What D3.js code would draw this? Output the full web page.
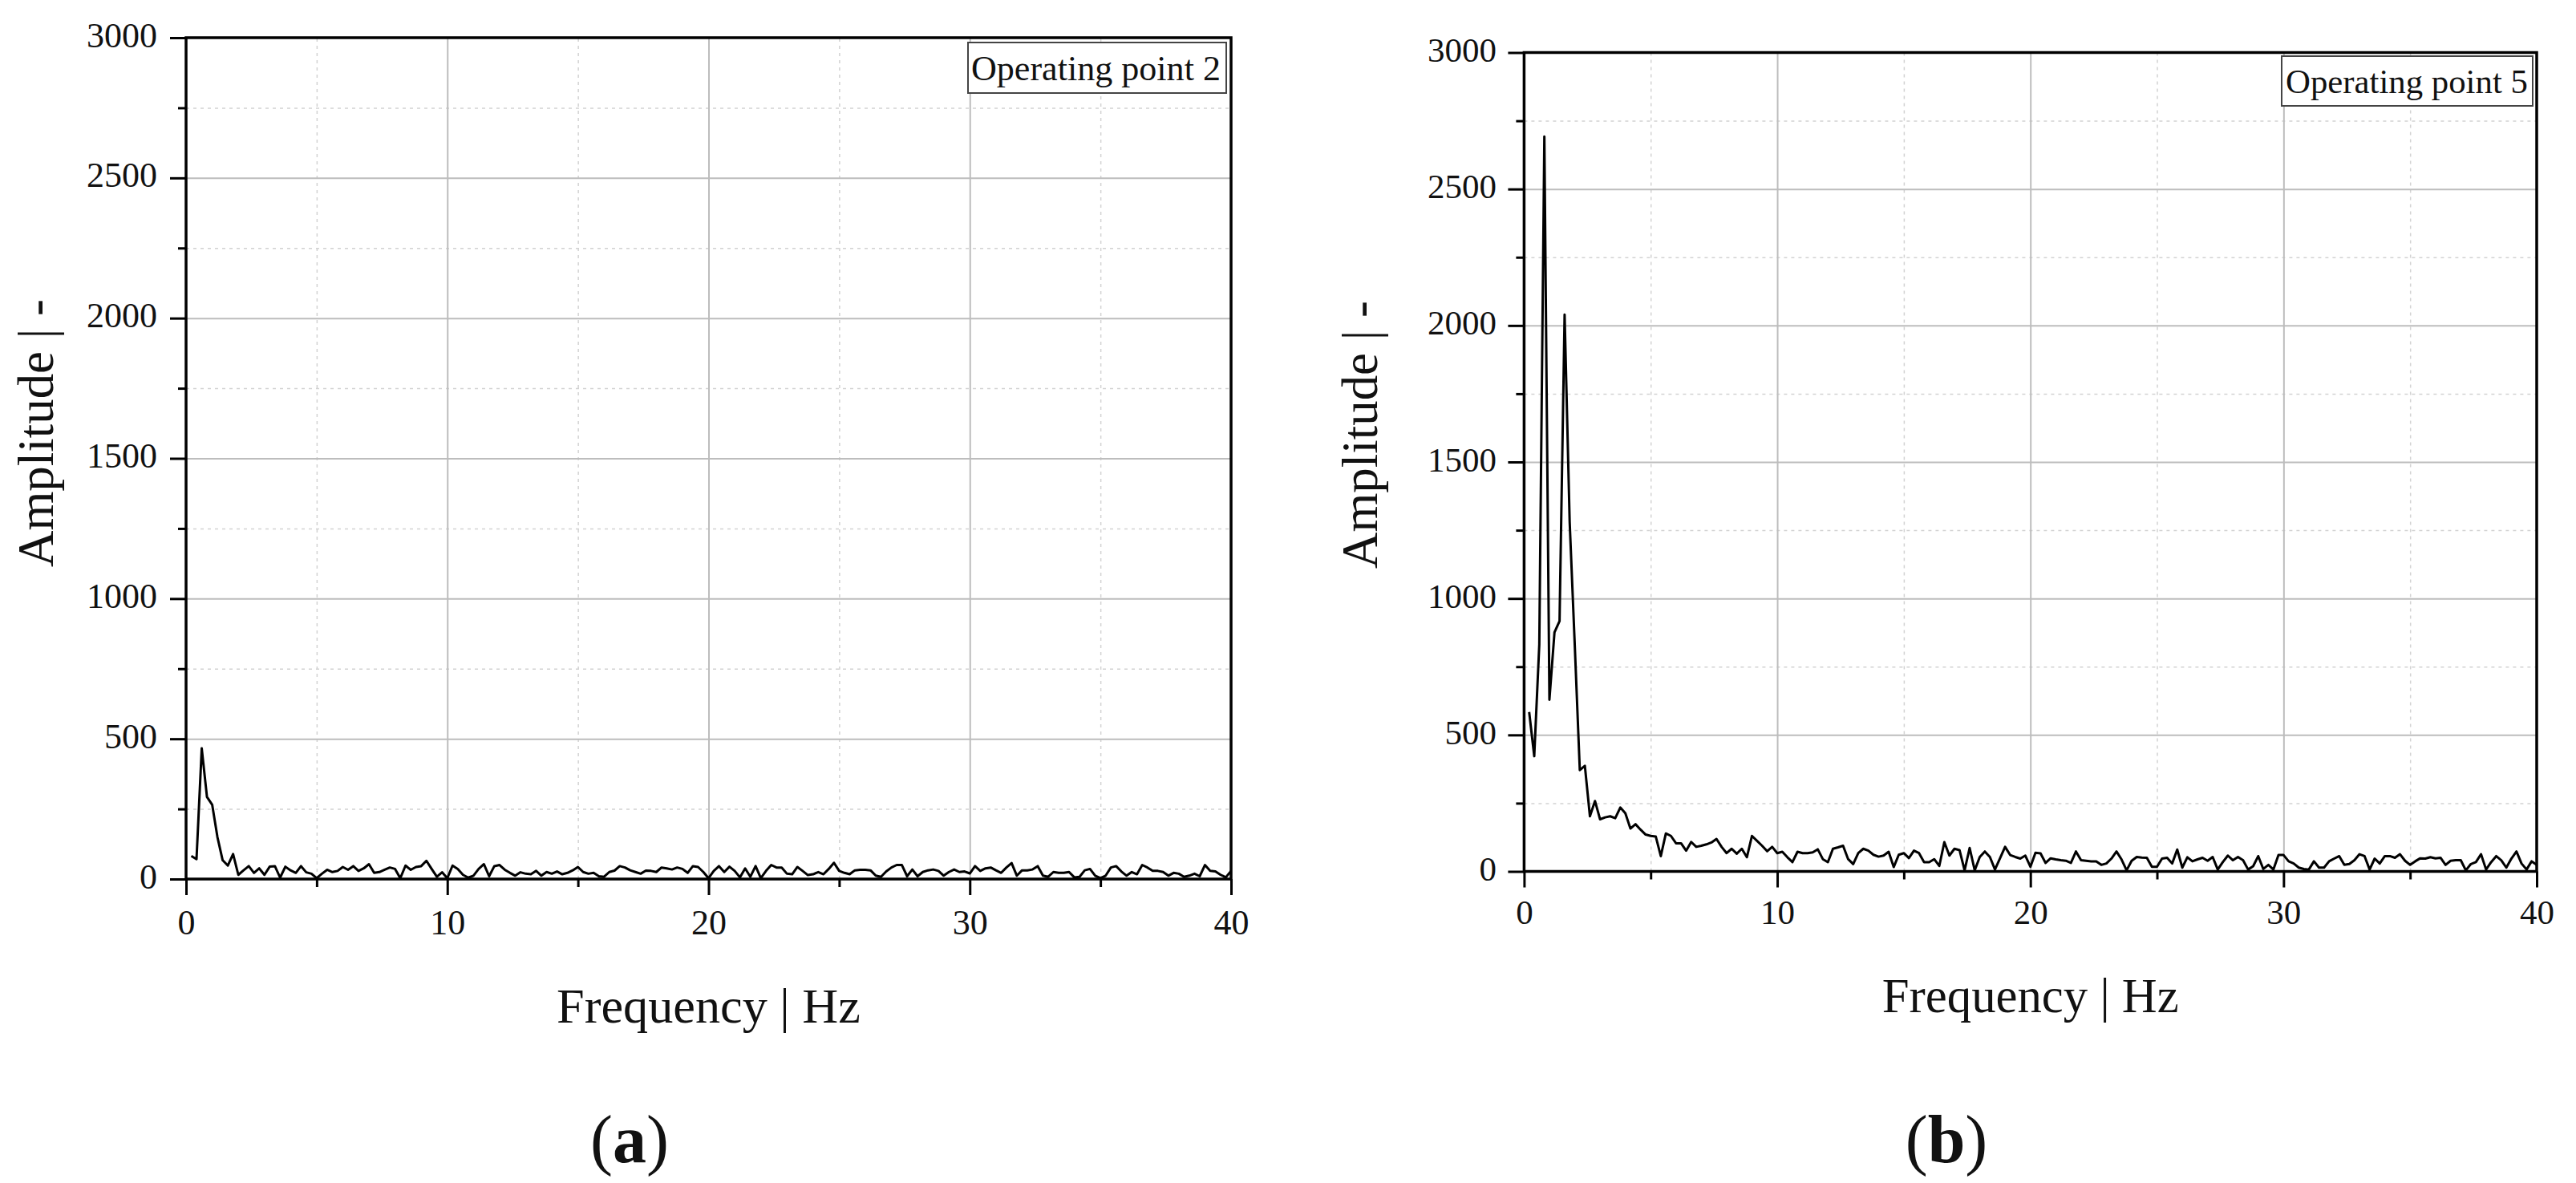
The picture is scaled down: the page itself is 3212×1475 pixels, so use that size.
<!DOCTYPE html>
<html>
<head>
<meta charset="utf-8">
<script src="https://cdn.jsdelivr.net/npm/d3@7"></script>
<style>
  body { margin: 0; background: #fff; }
  svg { display: block; }
  text { font-family: "Liberation Serif", "Times New Roman", serif; fill: #111; }
</style>
</head>
<body>
<svg id="chart" width="3212" height="1475"></svg>
<script>
// ---------------- data ----------------
const freqStep = 0.2; // FFT bin width (Hz); first bin at 0.2 Hz
const ampOP2 = [
  82,71,466,293,265,150,67,48,89,15,31,46,22,38,15,44,46,5,44,31,22,46,24,19,3,
  19,33,25,29,43,33,46,29,38,53,22,25,33,41,36,3,48,33,43,46,65,36,8,24,3,48,36,15,5,12,36,53,10,46,50,33,22,12,24,19,17,29,12,25,19,27,
  17,22,31,43,25,19,22,10,8,25,30,46,41,31,25,19,30,29,25,41,38,34,41,36,22,46,43,25,3,29,46,25,44,29,6,38,8,46,3,29,50,41,41,19,17,43,29,14,17,25,17,36,58,29,22,17,31,33,33,31,12,8,27,41,50,50,10,34,10,25,31,34,29,12,
  25,34,25,27,20,
  46,29,38,41,31,22,41,57,12,31,31,34,46,12,8,25,22,22,25,6,8,31,36,12,3,12,41,46,27,12,25,17,50,41,29,29,25,12,22,19,8,12,19,10,50,29,27,15,6,29
];
const ampOP5 = [
  584,422,831,2692,629,876,917,2040,1280,831,371,387,202,258,191,198,202,195,234,213,157,173,153,135,130,128,56,139,130,103,103,76,108,90,94,99,106,119,90,67,83,65,83,52,130,112,94,74,90,67,72,52,34,72,67,67,70,81,45,34,83,88,94,45,27,67,83,76,61,54,58,72,16,61,67,49,76,67,34,34,45,20,
  107,58,83,78,4,86,4,
  53,73,53,7,48,90,60,53,47,58,17,
  68,66,31,48,44,41,39,31,73,41,39,37,37,24,29,47,73,44,4,39,53,51,50,17,17,47,50,29,80,14,52,37,44,50,39,53,7,34,58,
  41,53,41,7,19,56,9,24,7,60,60,37,29,14,9,7,37,14,14,37,47,56,24,27,41,63,56,7,47,29,56,56,50,63,39,24,37,48,47,52,48,50,24,39,41,41,4,27,34,63,7,34,56,41,14,47,73,29,7,37,24
];
const yTickValues = [0, 500, 1000, 1500, 2000, 2500, 3000];
const yMinorValues = [250, 750, 1250, 1750, 2250, 2750];
const xTickValues = [0, 10, 20, 30, 40];
const xMinorValues = [5, 15, 25, 35];
const panelTitles = ["Operating point 2", "Operating point 5"];
const captionLetters = ["a", "b"];
const xLabelText = "Frequency | Hz";
const yLabelText = "Amplitude | -";

// ---------------- layout ----------------
const panels = [
  { l: 232, r: 1535, t: 47, b: 1096, fs: 44, yPad: 16, xLabY: 68.5,
    lgBox: [1207, 53, 1529, 116], lgX: 1211, lgY: 100, lgW: 311,
    xlY: 1275, xlW: 379, ylX: 66, ylY: 540, ylW: 334, capX: 785, capY: 1449 },
  { l: 1900.4, r: 3163, t: 65.5, b: 1086.5, fs: 43, yPad: 14.5, xLabY: 65.5,
    lgBox: [2845, 70, 3158, 132], lgX: 2850, lgY: 116, lgW: 302,
    xlY: 1262, xlW: 370, ylX: 1717, ylY: 542, ylW: 334, capX: 2427, capY: 1449 }
];
const series = [ampOP2, ampOP5];

const svg = d3.select("#chart");

function fitWidth(t, w) {
  const L = t.node().getComputedTextLength();
  const fs = parseFloat(t.attr("font-size"));
  t.attr("font-size", fs * w / L);
}

panels.forEach((p, k) => {
  const amps = series[k];
  const x = d3.scaleLinear().domain([0, 40]).range([p.l, p.r]);
  const y = d3.scaleLinear().domain([0, 3000]).range([p.b, p.t]);
  const W = p.r - p.l, H = p.b - p.t;
  const g = svg.append("g");

  // minor grid
  g.append("g").attr("transform", `translate(0,${p.b})`)
    .call(d3.axisBottom(x).tickValues(xMinorValues).tickSize(-H).tickFormat(""))
    .call(s => { s.select(".domain").remove();
      s.selectAll("line").attr("stroke", "#d2d2d2").attr("stroke-width", 1.5).attr("stroke-dasharray", "4,5"); });
  g.append("g").attr("transform", `translate(${p.l},0)`)
    .call(d3.axisLeft(y).tickValues(yMinorValues).tickSize(-W).tickFormat(""))
    .call(s => { s.select(".domain").remove();
      s.selectAll("line").attr("stroke", "#d2d2d2").attr("stroke-width", 1.5).attr("stroke-dasharray", "4,5"); });
  // major grid
  g.append("g").attr("transform", `translate(0,${p.b})`)
    .call(d3.axisBottom(x).tickValues(xTickValues.slice(1, -1)).tickSize(-H).tickFormat(""))
    .call(s => { s.select(".domain").remove();
      s.selectAll("line").attr("stroke", "#bdbdbd").attr("stroke-width", 2); });
  g.append("g").attr("transform", `translate(${p.l},0)`)
    .call(d3.axisLeft(y).tickValues(yTickValues.slice(1, -1)).tickSize(-W).tickFormat(""))
    .call(s => { s.select(".domain").remove();
      s.selectAll("line").attr("stroke", "#bdbdbd").attr("stroke-width", 2); });

  // data line
  const line = d3.line().x((d, i) => x((i + 1) * freqStep)).y(d => y(d));
  g.append("path").datum(amps).attr("d", line)
    .attr("fill", "none").attr("stroke", "#000").attr("stroke-width", 3)
    .attr("stroke-linejoin", "round");

  // frame
  g.append("rect").attr("x", p.l).attr("y", p.t).attr("width", W).attr("height", H)
    .attr("fill", "none").attr("stroke", "#000").attr("stroke-width", 3.5);

  // y axis ticks + labels
  g.append("g").attr("transform", `translate(${p.l},0)`)
    .call(d3.axisLeft(y).tickValues(yTickValues).tickSize(20).tickPadding(p.yPad).tickFormat(d3.format("d")))
    .call(s => { s.select(".domain").remove();
      s.selectAll("line").attr("stroke", "#000").attr("stroke-width", 3);
      s.selectAll("text").attr("font-size", p.fs).attr("dy", 11).attr("fill", "#111")
        .style("font-family", '"Liberation Serif", serif'); });
  g.append("g").attr("transform", `translate(${p.l},0)`)
    .call(d3.axisLeft(y).tickValues(yMinorValues).tickSize(10).tickFormat(""))
    .call(s => { s.select(".domain").remove();
      s.selectAll("line").attr("stroke", "#000").attr("stroke-width", 3); });

  // x axis ticks + labels
  g.append("g").attr("transform", `translate(0,${p.b})`)
    .call(d3.axisBottom(x).tickValues(xTickValues).tickSize(20).tickFormat(d3.format("d")))
    .call(s => { s.select(".domain").remove();
      s.selectAll("line").attr("stroke", "#000").attr("stroke-width", 3);
      s.selectAll("text").attr("font-size", p.fs).attr("y", p.xLabY).attr("dy", 0).attr("fill", "#111")
        .style("font-family", '"Liberation Serif", serif'); });
  g.append("g").attr("transform", `translate(0,${p.b})`)
    .call(d3.axisBottom(x).tickValues(xMinorValues).tickSize(10).tickFormat(""))
    .call(s => { s.select(".domain").remove();
      s.selectAll("line").attr("stroke", "#000").attr("stroke-width", 3); });

  // legend box
  const [bx0, by0, bx1, by1] = p.lgBox;
  g.append("rect").attr("x", bx0).attr("y", by0).attr("width", bx1 - bx0).attr("height", by1 - by0)
    .attr("fill", "#fff").attr("stroke", "#444").attr("stroke-width", 2);
  const lt = g.append("text").attr("x", p.lgX).attr("y", p.lgY).attr("font-size", 43).text(panelTitles[k]);
  fitWidth(lt, p.lgW);

  // axis titles
  const xl = g.append("text").attr("x", (p.l + p.r) / 2).attr("y", p.xlY)
    .attr("text-anchor", "middle").attr("font-size", 60).text(xLabelText);
  fitWidth(xl, p.xlW);
  const yl = g.append("text").attr("transform", `translate(${p.ylX},${p.ylY}) rotate(-90)`)
    .attr("text-anchor", "middle").attr("font-size", 61).text(yLabelText);
  fitWidth(yl, p.ylW);

  // caption
  const cap = g.append("text").attr("x", p.capX).attr("y", p.capY)
    .attr("text-anchor", "middle").attr("font-size", 84);
  cap.append("tspan").text("(");
  cap.append("tspan").attr("font-weight", "bold").text(captionLetters[k]);
  cap.append("tspan").text(")");
});
</script>
</body>
</html>
